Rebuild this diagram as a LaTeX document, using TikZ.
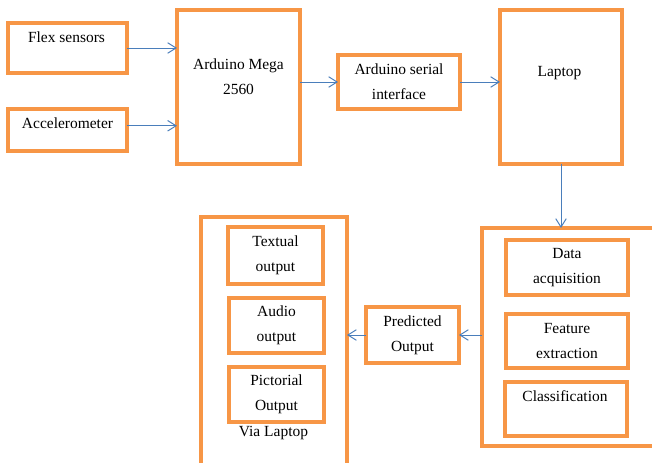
\documentclass[tikz,border=0pt]{standalone}
\usepackage{fontspec}
\setmainfont{Liberation Serif}
\usetikzlibrary{arrows.meta}
\definecolor{boxorange}{HTML}{F79646}
\definecolor{linkblue}{HTML}{4A7EBB}
\tikzset{
  blk/.style={draw=boxorange, line width=2.6pt, inner sep=0pt, outer sep=0pt},
  txt/.style={align=center, font=\fontsize{11}{17.5}\selectfont},
  link/.style={draw=linkblue, line width=0.7pt, -{Straight Barb[length=6pt,width=7.5pt]}}
}

\begin{document}
\begin{tikzpicture}[x=0.025cm,y=-0.025cm]
\useasboundingbox (0,0) rectangle (652,462);
\clip (0,0) rectangle (652,462);
% top row
\node (flex) at (67.5,48) [blk, minimum width=2.975cm, minimum height=1.25cm] {};
\node (acc) at (67.5,130) [blk, minimum width=2.975cm, minimum height=1.05cm] {};
\node (mega) at (238.5,87) [blk, minimum width=3.075cm, minimum height=3.85cm] {};
\node (serial) at (399,82) [blk, txt, minimum width=3.05cm, minimum height=1.35cm] {Arduino serial\\ interface};
\node (laptop) at (561,87) [blk, minimum width=3.05cm, minimum height=3.85cm] {};
\node (flextxt) at (66.5,37.5) [txt] {Flex sensors};
\node (acctxt) at (67.5,123) [txt] {Accelerometer};
\node (megatxt) at (238.5,76.5) [txt] {Arduino Mega\\ 2560};
\node (laptoptxt) at (559.5,73.5) [txt] {Laptop};
% processing on the laptop
\node (proc) at (591,337) [blk, minimum width=5.45cm, minimum height=5.45cm] {};
\node (data) at (567,267.5) [blk, txt, minimum width=3.05cm, minimum height=1.375cm] {Data\\ acquisition};
\node (feat) at (567,341) [blk, txt, minimum width=3.05cm, minimum height=1.35cm] {Feature\\ extraction};
\node (cls) at (566,409) [blk, minimum width=3.05cm, minimum height=1.35cm] {};
\node (clstxt) at (565,396.5) [txt] {Classification};
\node (pred) at (412.5,335) [blk, txt, minimum width=2.325cm, minimum height=1.4cm] {Predicted\\ Output};
% outputs
\node (outbox) at (274,358.5) [blk, minimum width=3.65cm, minimum height=7.075cm] {};
\node (textual) at (275.5,255.5) [blk, txt, minimum width=2.375cm, minimum height=1.425cm] {Textual\\ output};
\node (audio) at (276.5,325.5) [blk, txt, minimum width=2.375cm, minimum height=1.375cm] {Audio\\ output};
\node (pict) at (276.5,394.5) [blk, txt, minimum width=2.375cm, minimum height=1.375cm] {Pictorial\\ Output};
\node (viatxt) at (273.5,433.5) [txt] {Via Laptop};
% connectors
\draw [link] (flex) -- (flex -| mega.west);
\draw [link] ([yshift=3pt]acc.east) -- ([yshift=3pt]acc.east -| mega.west);
\draw [link] (serial.west -| mega.east) -- (serial.west);
\draw [link] (serial) -- (serial -| laptop.west);
\draw [link] (laptop.south) -- (laptop.south |- proc.north);
\draw [link] (proc.west |- pred.east) -- (pred.east);
\draw [link] (pred) -- (pred -| outbox.east);
\end{tikzpicture}
\end{document}
